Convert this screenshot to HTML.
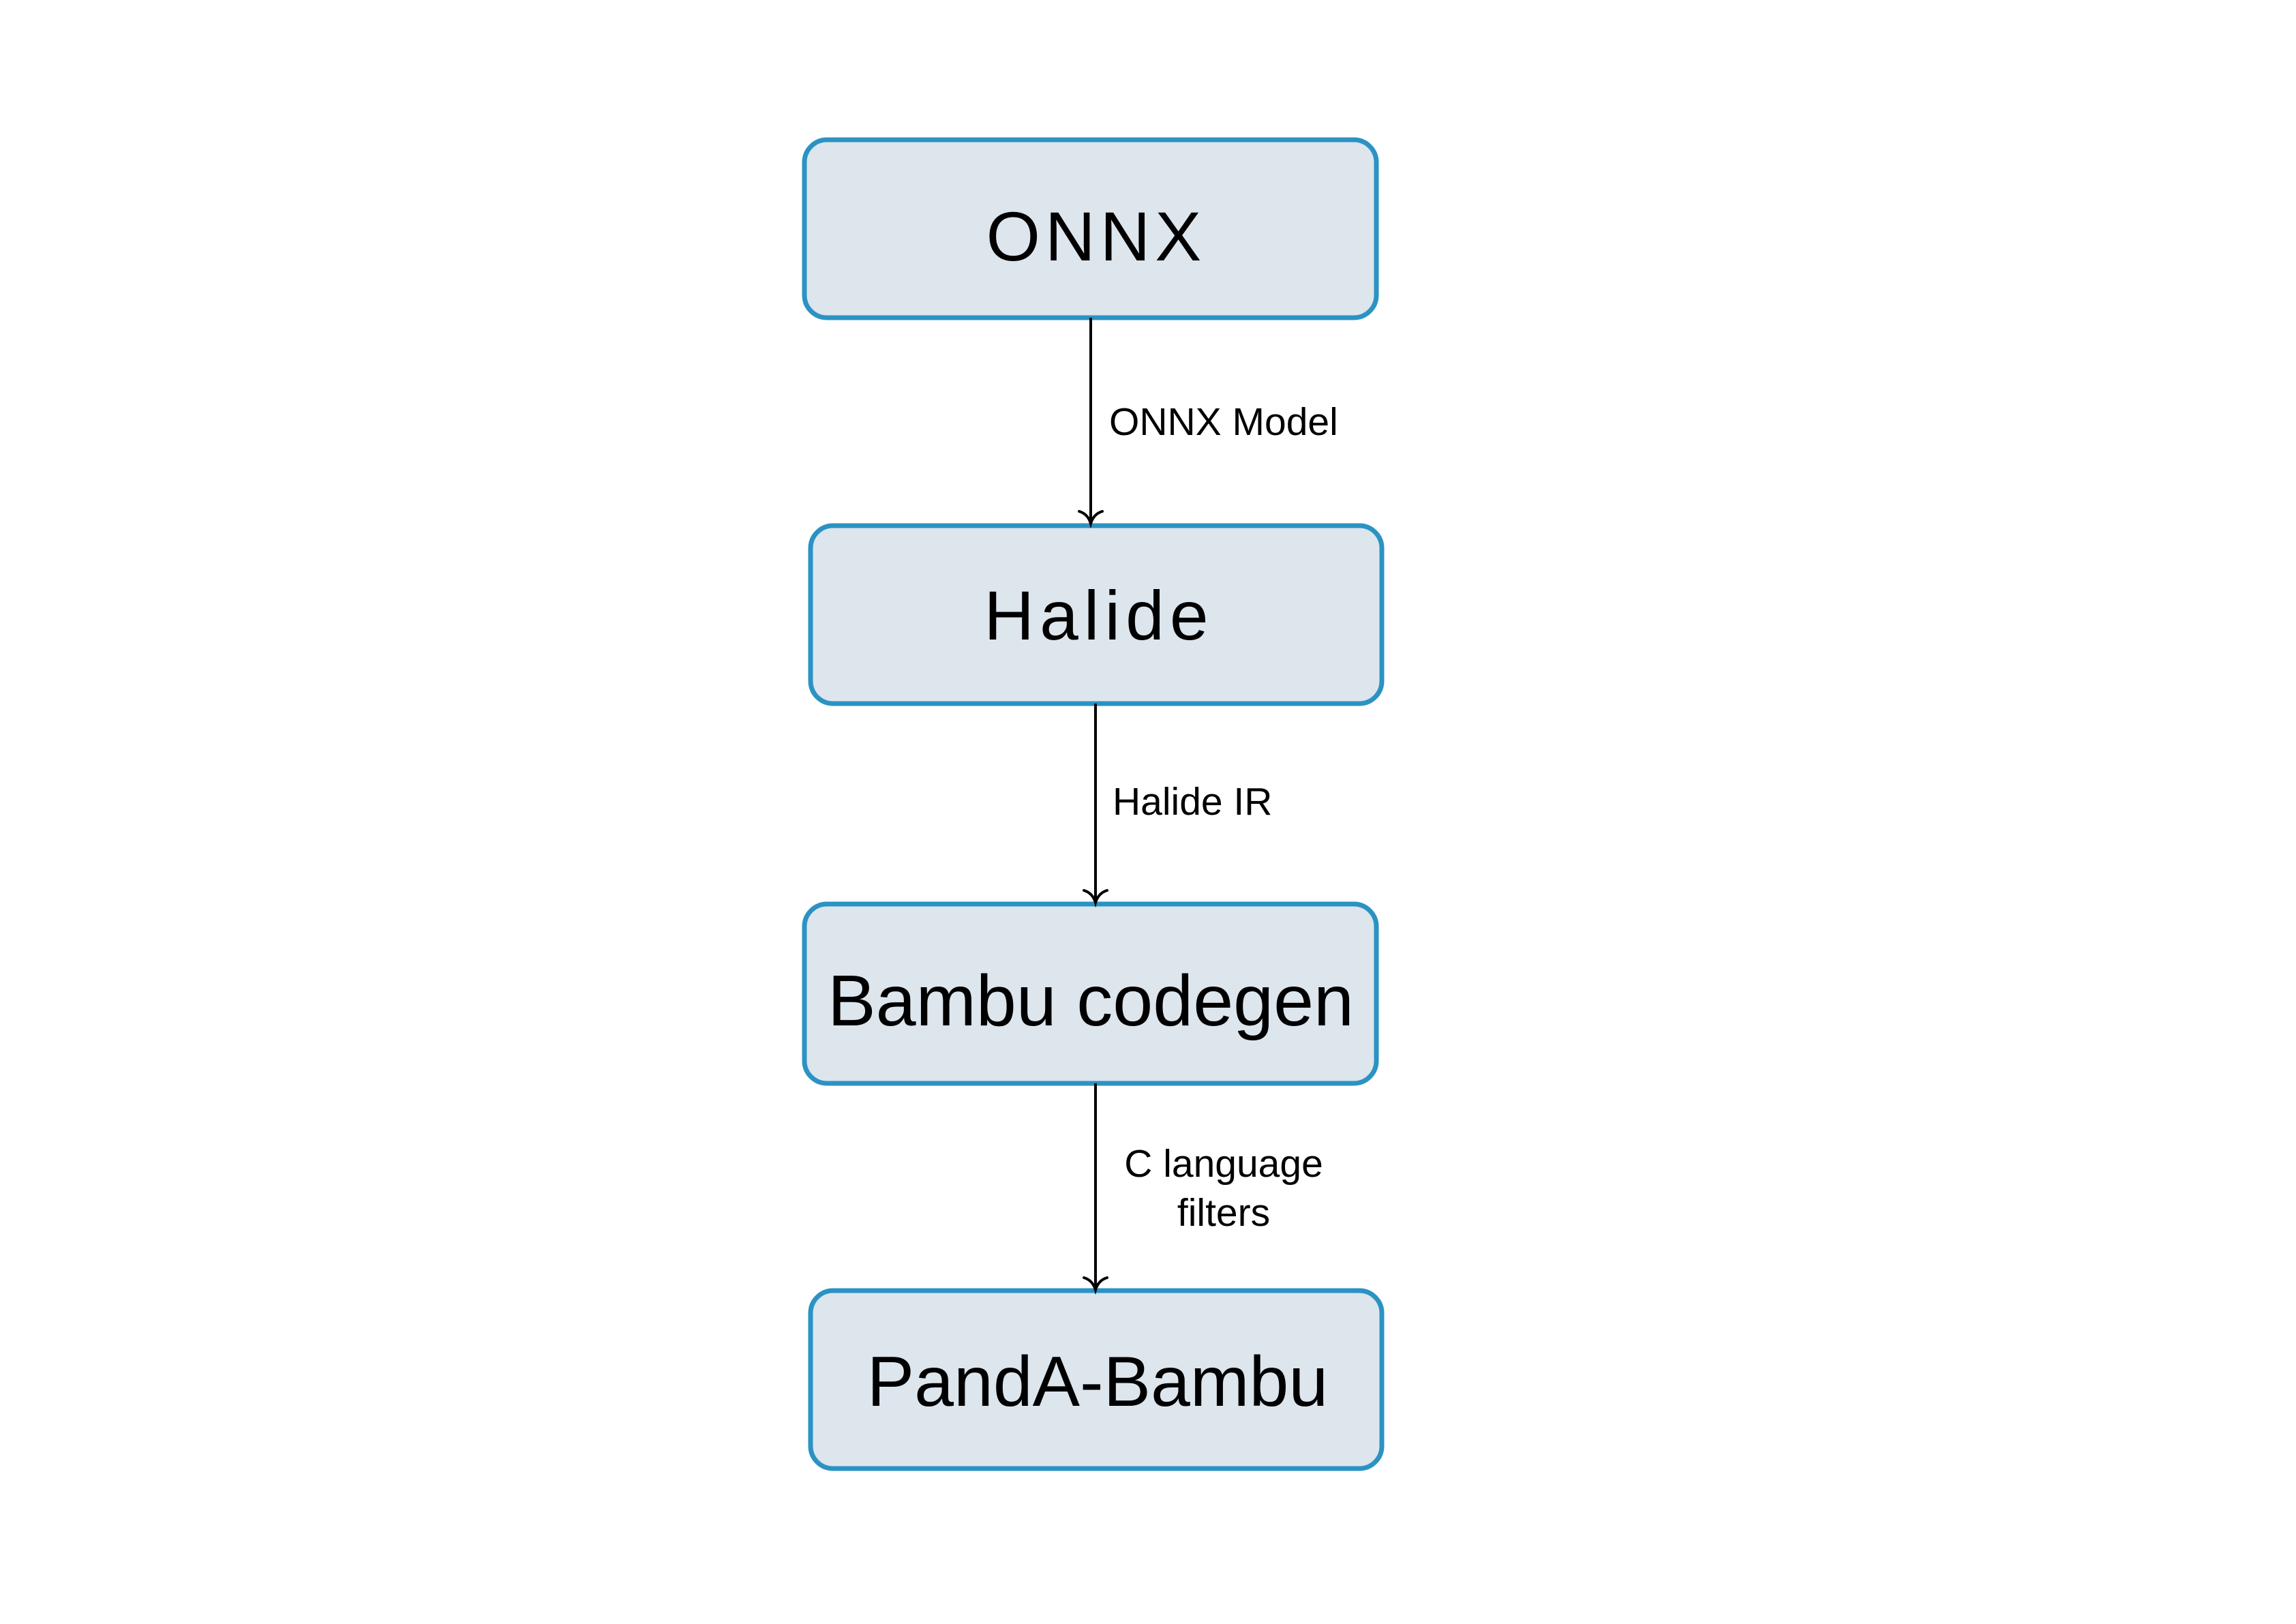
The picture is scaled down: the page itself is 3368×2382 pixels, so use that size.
<!DOCTYPE html>
<html><head><style>
html,body{margin:0;padding:0;background:#fff;}
svg{display:block;}
</style></head><body>
<svg width="3368" height="2382" viewBox="0 0 3368 2382" xmlns="http://www.w3.org/2000/svg">
<g fill="#dde5ed" stroke="#2b93c3" stroke-width="7">
<rect x="1180" y="205" width="839" height="261" rx="33"/>
<rect x="1189" y="771" width="838" height="261" rx="33"/>
<rect x="1180" y="1326" width="839" height="263" rx="33"/>
<rect x="1189" y="1893" width="838" height="261" rx="33"/>
</g>
<g stroke="#000" stroke-width="4" fill="none">
<line x1="1600" y1="466" x2="1600" y2="766"/>
<line x1="1607" y1="1032" x2="1607" y2="1320"/>
<line x1="1607" y1="1589" x2="1607" y2="1888"/>
</g>
<g fill="none" stroke="#000" stroke-width="4" stroke-linecap="round">
<path d="M1583 750 Q1596 754 1600 768 Q1604 754 1617 750"/>
<path d="M1590 1306 Q1603 1310 1607 1324 Q1611 1310 1624 1306"/>
<path d="M1590 1874 Q1603 1878 1607 1892 Q1611 1878 1624 1874"/>
</g>
<g font-family="Liberation Sans, sans-serif" fill="#000" text-anchor="middle" font-size="102">
<text x="1608" y="382" letter-spacing="7">ONNX</text>
<text x="1612" y="938" letter-spacing="8">Halide</text>
<text x="1600" y="1504" font-size="106">Bambu codegen</text>
<text x="1610" y="2062" font-size="104">PandA-Bambu</text>
</g>
<g font-family="Liberation Sans, sans-serif" fill="#000" font-size="57">
<text x="1627" y="638">ONNX Model</text>
<text x="1632" y="1195">Halide IR</text>
<text x="1795" y="1726" text-anchor="middle">C language</text>
<text x="1795" y="1798" text-anchor="middle">filters</text>
</g>
</svg>
</body></html>
